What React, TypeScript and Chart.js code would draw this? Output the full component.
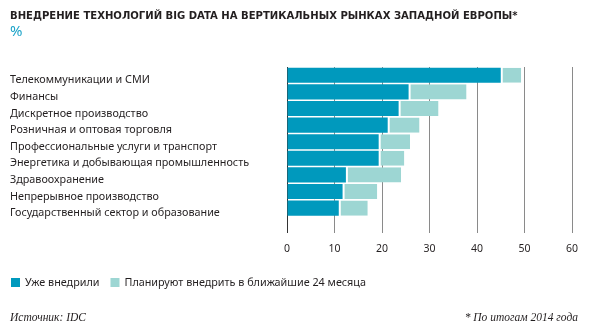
import { useEffect, useRef } from 'react';
import { Chart, registerables } from 'chart.js';
Chart.register(...registerables);

const categories = [
  'Телекоммуникации и СМИ',
  'Финансы',
  'Дискретное производство',
  'Розничная и оптовая торговля',
  'Профессиональные услуги и транспорт',
  'Энергетика и добывающая промышленность',
  'Здравоохранение',
  'Непрерывное производство',
  'Государственный сектор и образование',
  '',
];
const adopted = [45.0, 25.6, 23.5, 21.2, 19.3, 19.3, 12.4, 11.7, 10.9, null];
const planned = [4.3, 12.2, 8.4, 6.7, 6.6, 5.4, 11.6, 7.3, 6.1, null];
const xTicks = [0, 10, 20, 30, 40, 50, 60];
const seriesNames = ['Уже внедрили', 'Планируют внедрить в ближайшие 24 месяца'];
const titleText = 'ВНЕДРЕНИЕ ТЕХНОЛОГИЙ BIG DATA НА ВЕРТИКАЛЬНЫХ РЫНКАХ ЗАПАДНОЙ ЕВРОПЫ*';
const unitText = '%';
const sourceText = 'Источник: IDC';
const noteText = '* По итогам 2014 года';

const DARK = '#0099bd';
const LIGHT = '#9dd6d3';
const TEXT = '#231f20';
const SANS = '"Noto Sans", sans-serif';
const COND = '"DejaVu Sans Condensed", "Noto Sans", sans-serif';
const SERIF = '"Liberation Serif", serif';

const textPlugin = {
  id: 'texts',
  afterDraw(chart: any) {
    const ctx = chart.ctx;
    ctx.save();
    ctx.textBaseline = 'alphabetic';
    ctx.textAlign = 'left';
    ctx.fillStyle = TEXT;
    ctx.font = `bold 11.2px ${COND}`;
    ctx.fillText(titleText, 10, 19);
    ctx.fillStyle = '#1ba3c8';
    ctx.font = `15px ${SANS}`;
    ctx.fillText(unitText, 10, 36);

    // legend
    const colors = [DARK, LIGHT];
    let x = 11;
    ctx.font = `10.8px ${SANS}`;
    seriesNames.forEach((name, i) => {
      ctx.fillStyle = colors[i];
      ctx.fillRect(x, 278, 9, 9);
      ctx.fillStyle = TEXT;
      ctx.fillText(name, x + 14, 286);
      x += 14 + ctx.measureText(name).width + 11;
    });

    ctx.fillStyle = TEXT;
    ctx.font = `italic 11.5px ${SERIF}`;
    ctx.fillText(sourceText, 10, 321);
    ctx.textAlign = 'right';
    ctx.fillText(noteText, 578, 321);
    ctx.restore();
  },
};

export default function App() {
  const ref = useRef<HTMLCanvasElement>(null);
  useEffect(() => {
    const chart = new Chart(ref.current!, {
      type: 'bar',
      data: {
        labels: categories,
        datasets: [
          {
            label: seriesNames[0],
            data: adopted,
            backgroundColor: DARK,
            borderWidth: 0,
            barPercentage: 0.91,
            categoryPercentage: 1,
          },
          {
            label: seriesNames[1],
            data: planned,
            backgroundColor: LIGHT,
            borderColor: '#ffffff',
            borderWidth: { left: 2, top: 0, right: 0, bottom: 0 },
            borderSkipped: false,
            barPercentage: 0.91,
            categoryPercentage: 1,
          },
        ],
      },
      options: {
        indexAxis: 'y',
        responsive: false,
        animation: false,
        devicePixelRatio: 1,
        layout: { padding: { left: 10, top: 67, right: 21, bottom: 68 } },
        plugins: { legend: { display: false }, tooltip: { enabled: false } },
        scales: {
          x: {
            stacked: true,
            min: 0,
            max: 60,
            afterBuildTicks: (s: any) => {
              s.ticks = xTicks.map((v) => ({ value: v }));
            },
            afterFit: (s: any) => {
              s.height = 22;
            },
            grid: {
              drawTicks: false,
              color: (c: any) => (c.tick && c.tick.value === 0 ? '#333' : '#8a8a8a'),
              lineWidth: 1,
            },
            border: { display: false },
            ticks: { padding: 10, color: TEXT, font: { family: SANS, size: 10.5 } },
          },
          y: {
            stacked: true,
            afterFit: (s: any) => {
              s.width = 277;
            },
            grid: { display: false, drawTicks: false },
            border: { display: false },
            ticks: {
              crossAlign: 'far',
              labelOffset: 5,
              padding: 0,
              color: TEXT,
              font: { family: SANS, size: 10.8 },
            },
          },
        },
      },
      plugins: [textPlugin],
    } as any);
    return () => chart.destroy();
  }, []);
  return (
    <div style={{ position: 'absolute', left: 0, top: 0, width: 593, height: 323, background: '#fff' }}>
      <canvas ref={ref} width={593} height={323} />
    </div>
  );
}
